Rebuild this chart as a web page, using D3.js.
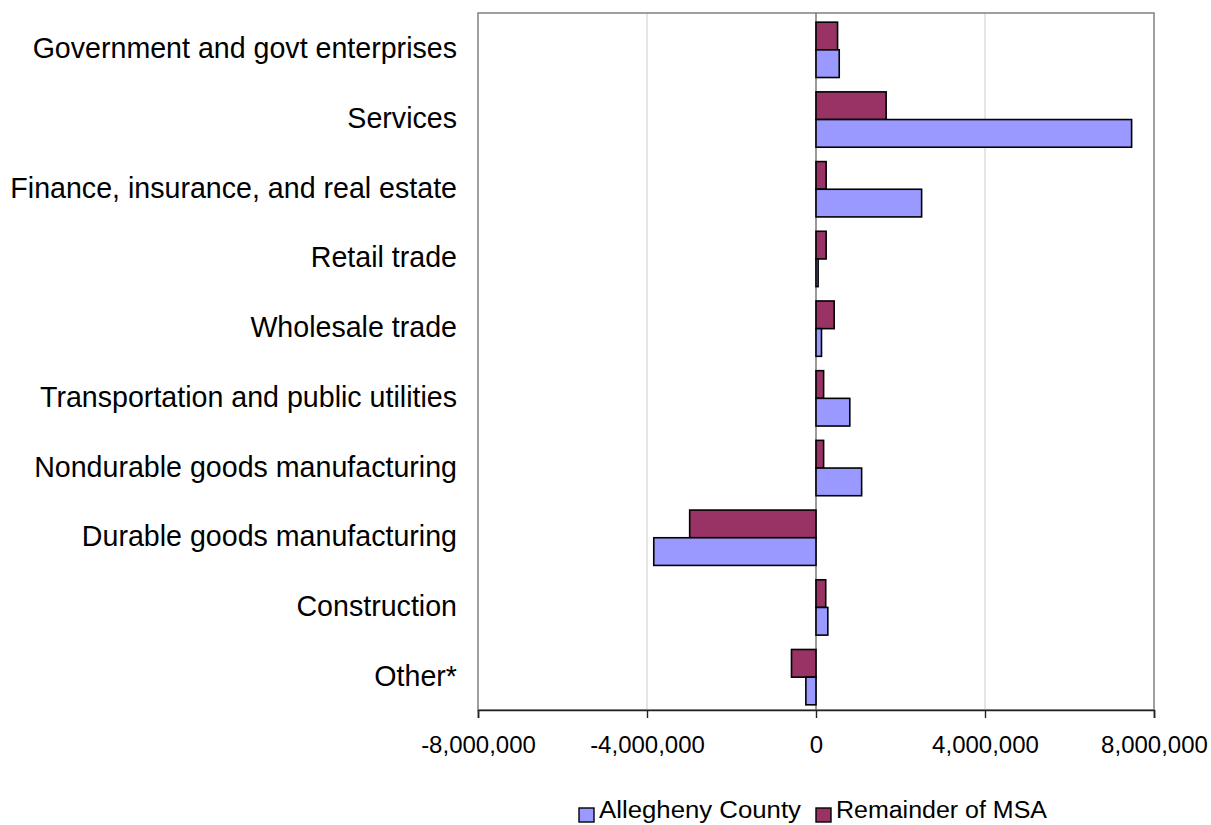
<!DOCTYPE html>
<html>
<head>
<meta charset="utf-8">
<script src="https://cdn.jsdelivr.net/npm/d3@7"></script>
<style>
  html, body { margin: 0; padding: 0; background: #fff; }
  svg { display: block; font-family: "Liberation Sans", Arial, sans-serif; }
</style>
</head>
<body>
<svg id="chart" width="1211" height="825"></svg>
<script>
// Change in earnings by industry
const categories = [
  "Government and govt enterprises",
  "Services",
  "Finance, insurance, and real estate",
  "Retail trade",
  "Wholesale trade",
  "Transportation and public utilities",
  "Nondurable goods manufacturing",
  "Durable goods manufacturing",
  "Construction",
  "Other*"
];
const allegheny = [550000, 7470000, 2500000, 50000, 130000, 800000, 1080000, -3840000, 280000, -240000];
const remainder = [510000, 1660000, 240000, 240000, 430000, 180000, 180000, -2990000, 230000, -580000];
const seriesNames = ["Allegheny County", "Remainder of MSA"];
const seriesColors = ["#9999ff", "#993366"];
const xTicks = [-8000000, -4000000, 0, 4000000, 8000000];

const svg = d3.select("#chart");
const plot = { left: 478, right: 1154, top: 13, bottom: 710 };

const x = d3.scaleLinear().domain([-8000000, 8000000]).range([plot.left, plot.right]);
const y = d3.scaleBand().domain(categories).range([plot.top, plot.bottom]);
const bw = y.bandwidth();
const barH = bw * 0.397;
const groupOffset = (bw - 2 * barH) / 2 + 2;

// gridlines
svg.append("g").selectAll("line")
  .data(xTicks.filter(t => t !== 0 && Math.abs(t) !== 8000000))
  .join("line")
  .attr("x1", d => x(d)).attr("x2", d => x(d))
  .attr("y1", plot.top).attr("y2", plot.bottom)
  .attr("stroke", "#d4d4d4").attr("stroke-width", 1.2);

// plot frame
svg.append("rect")
  .attr("x", plot.left).attr("y", plot.top)
  .attr("width", plot.right - plot.left).attr("height", plot.bottom - plot.top)
  .attr("fill", "none").attr("stroke", "#888").attr("stroke-width", 1.6);

// zero line
svg.append("line")
  .attr("x1", x(0)).attr("x2", x(0))
  .attr("y1", plot.top).attr("y2", plot.bottom)
  .attr("stroke", "#707070").attr("stroke-width", 1.4);

// bars: remainder on top, Allegheny below
const rows = categories.map((c, i) => ({ c, a: allegheny[i], r: remainder[i] }));
const bars = svg.append("g");
rows.forEach(d => {
  const y0 = y(d.c) + groupOffset;
  [[d.r, seriesColors[1], 0], [d.a, seriesColors[0], 1]].forEach(([v, col, k]) => {
    bars.append("rect")
      .attr("x", Math.min(x(0), x(v)))
      .attr("y", y0 + k * barH)
      .attr("width", Math.abs(x(v) - x(0)))
      .attr("height", barH)
      .attr("fill", col)
      .attr("stroke", "#000")
      .attr("stroke-width", 1.6);
  });
});

// x axis, plain hyphen for negatives
const fmt = d3.format(",");
const xAxis = d3.axisBottom(x).tickValues(xTicks).tickSize(8).tickPadding(18)
  .tickFormat(d => fmt(d).replace("\u2212", "-"));
const gx = svg.append("g").attr("transform", `translate(0,${plot.bottom})`).call(xAxis);
gx.select(".domain").attr("stroke", "#222").attr("stroke-width", 1.6);
gx.selectAll(".tick line").attr("stroke", "#222").attr("stroke-width", 1.4);
gx.selectAll(".tick text").attr("font-size", 24).attr("fill", "#000")
  .attr("font-family", "Liberation Sans, Arial, sans-serif");

// category labels
svg.append("g").selectAll("text")
  .data(categories)
  .join("text")
  .attr("x", 457)
  .attr("y", d => y(d) + bw / 2 + 0.5)
  .attr("text-anchor", "end")
  .attr("dominant-baseline", "central")
  .attr("font-size", 28.6)
  .attr("fill", "#000")
  .text(d => d);

// legend
const legend = svg.append("g").attr("transform", "translate(579,808)");
const legendItems = [
  { name: seriesNames[0], color: seriesColors[0], x: 0, w: 202 },
  { name: seriesNames[1], color: seriesColors[1], x: 237, w: 211 }
];
legendItems.forEach(it => {
  legend.append("rect")
    .attr("x", it.x).attr("y", 0).attr("width", 15).attr("height", 14)
    .attr("fill", it.color).attr("stroke", "#000").attr("stroke-width", 1.4);
  legend.append("text")
    .attr("x", it.x + 20).attr("y", 10)
    .attr("font-size", 23).attr("fill", "#000")
    .attr("textLength", it.w).attr("lengthAdjust", "spacingAndGlyphs")
    .text(it.name);
});
</script>
</body>
</html>
